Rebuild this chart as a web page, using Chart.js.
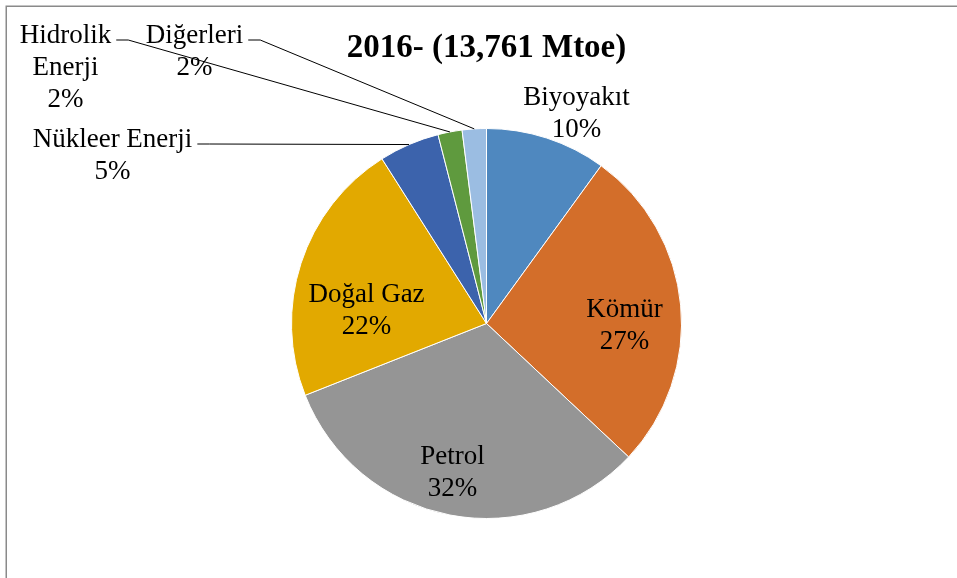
<!DOCTYPE html>
<html>
<head>
<meta charset="utf-8">
<script src="https://cdn.jsdelivr.net/npm/chart.js@4"></script>
<style>
  body { margin: 0; background: #fff; }
  #wrap { width: 957px; height: 578px; position: relative; }
</style>
</head>
<body>
<div id="wrap"><canvas id="myChart" width="957" height="578"></canvas></div>
<script>
// Veriler (2016 birincil enerji dağılımı)
const chartTitle = "2016- (13,761 Mtoe)";
const categories = ["Biyoyakıt", "Kömür", "Petrol", "Doğal Gaz", "Nükleer Enerji", "Hidrolik Enerji", "Diğerleri"];
const shares = [10, 27, 32, 22, 5, 2, 2];
const sliceColors = ["#4f88bf", "#d36e2a", "#959595", "#e2a900", "#3c63ac", "#5f9a3e", "#9bbde2"];

// Etiket satırları ve yerleşimi (pasta merkezine göre, ilk satırın taban çizgisi)
const labelLines = [
    ["Biyoyakıt"], ["Kömür"], ["Petrol"], ["Doğal Gaz"],
    ["Nükleer Enerji"], ["Hidrolik", "Enerji"], ["Diğerleri"]
];
const labelOffsets = [[90, -219], [138, -7], [-34, 140], [-120, -22], [-374, -177], [-421, -281], [-292, -281]];
const hasLeader = [false, false, false, false, true, true, true];

const labelFont = "27px 'Liberation Serif', 'Times New Roman', serif";
const lineGap = 32;

// Çerçeve, başlık, etiketler ve kılavuz çizgileri
const decorations = {
    id: "decorations",
    beforeDraw(chart) {
        const ctx = chart.ctx;
        ctx.save();
        ctx.fillStyle = "#fff";
        ctx.fillRect(0, 0, chart.width, chart.height);
        ctx.strokeStyle = "#8a8a8a";
        ctx.lineWidth = 1.5;
        ctx.beginPath();
        ctx.moveTo(6.25, chart.height + 5);
        ctx.lineTo(6.25, 6.25);
        ctx.lineTo(chart.width + 5, 6.25);
        ctx.stroke();
        ctx.restore();
    },
    afterDatasetsDraw(chart) {
        const ctx = chart.ctx;
        const arcs = chart.getDatasetMeta(0).data;
        const cx = arcs[0].x;
        const cy = arcs[0].y;
        ctx.save();

        ctx.fillStyle = "#000";
        ctx.textAlign = "center";
        ctx.textBaseline = "alphabetic";
        ctx.font = "bold 33px 'Liberation Serif', 'Times New Roman', serif";
        ctx.fillText(chartTitle, cx, 57);

        ctx.font = labelFont;
        arcs.forEach((arc, i) => {
            const lx = cx + labelOffsets[i][0];
            const ly = cy + labelOffsets[i][1];
            const lines = labelLines[i].concat([shares[i] + "%"]);
            lines.forEach((t, k) => {
                ctx.fillText(t, lx, ly + k * lineGap);
            });

            if (hasLeader[i]) {
                const w = ctx.measureText(lines[0]).width;
                const sx = lx + w / 2 + 5;
                const sy = ly - 2.5;
                const mid = (arc.startAngle + arc.endAngle) / 2;
                const ex = cx + Math.cos(mid) * arc.outerRadius;
                const ey = cy + Math.sin(mid) * arc.outerRadius;
                ctx.strokeStyle = "#000";
                ctx.lineWidth = 1;
                ctx.beginPath();
                ctx.moveTo(sx, sy);
                ctx.lineTo(sx + 12, sy);
                ctx.lineTo(ex, ey);
                ctx.stroke();
            }
        });
        ctx.restore();
    }
};

const config = {
    type: "pie",
    data: {
        labels: categories,
        datasets: [
            {
                data: shares,
                backgroundColor: sliceColors,
                borderColor: "#ffffff",
                borderWidth: 1,
            },
        ],
    },
    options: {
        responsive: false,
        animation: false,
        layout: {
            padding: { left: 291, right: 275, top: 128, bottom: 59 },
        },
        plugins: {
            legend: { display: false },
            tooltip: { enabled: false },
            title: { display: false },
        },
    },
    plugins: [decorations],
};

const myChart = new Chart(document.querySelector("#myChart"), config);
</script>
</body>
</html>
